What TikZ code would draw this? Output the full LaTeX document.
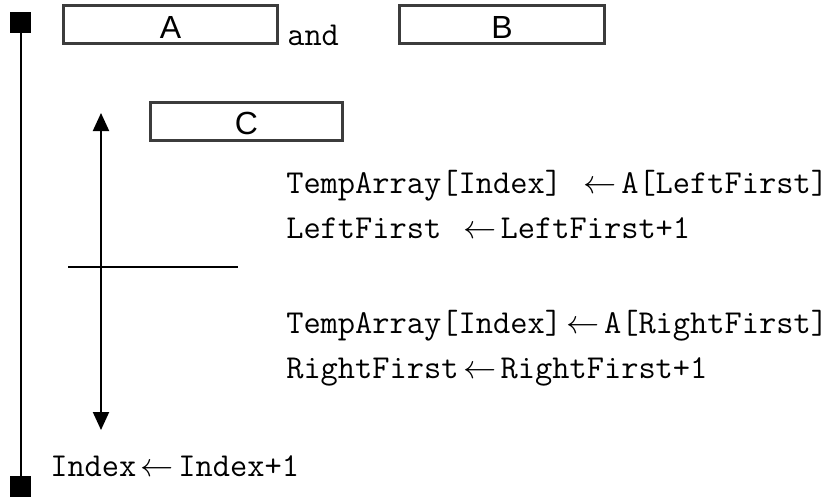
\documentclass[tikz,border=0pt]{standalone}
\usepackage{fontspec}
\setmainfont{Liberation Sans}
\usetikzlibrary{arrows.meta}
\definecolor{boxgray}{HTML}{3C3C3C}
% assignment arrow with fixed room around it
\newcommand\assignto[1][31.5pt]{\makebox[#1][c]{\fontsize{26}{26}\selectfont$\leftarrow$}}
\begin{document}
\begin{tikzpicture}[x=0.75pt,y=-0.75pt,
  namebox/.style={draw=boxgray, line width=2.25pt, inner sep=0pt,
    text height=20.25pt, text depth=0pt,
    font=\fontsize{24}{24}\selectfont},
  code/.style={anchor=base west, inner sep=0pt,
    font=\ttfamily\fontsize{25.1}{25}\selectfont},
  marker/.style={fill=black, draw=none, minimum size=15.75pt, inner sep=0pt},
  rail/.style={line width=1.5pt},
  flow/.style={line width=1.5pt, {Triangle[length=13.5pt,width=12pt]}-{Triangle[length=13.5pt,width=12pt]}},
]
\useasboundingbox (0,0) rectangle (840,497);

% outer bracket of the loop
\node[marker] (top) at (20.5,22.5) {};
\node[marker] (bot) at (20.5,486.5) {};
\draw[rail] (top) -- (bot);

% condition boxes
\node[namebox, minimum width=160.5pt, minimum height=28.5pt] (A) at (170.5,24.5) {A};
\node[code] (and) at (287,45) {and};
\node[namebox, minimum width=153.75pt, minimum height=28.5pt] (B) at (502,24.5) {B};
\node[namebox, minimum width=144pt, minimum height=28.5pt] (C) at (246.5,121) {C};

% two-way branch
\coordinate (up) at (101,113);
\coordinate (down) at (101,430);
\draw[flow] (down) -- (up);
\coordinate (barL) at (68,267);
\coordinate (barR) at (238,267);
\draw[rail] (barL) -- (barR);

% branch statements
\node[code] (l1) at (286,193) {TempArray[Index] \assignto A[LeftFirst]};
\node[code] (l2) at (286,238) {LeftFirst \assignto LeftFirst+1};
\node[code] (r1) at (286,333) {TempArray[Index]\assignto A[RightFirst]};
\node[code] (r2) at (286,378) {RightFirst\assignto RightFirst+1};
\node[code] (inc) at (50,476) {Index\assignto Index+1};
\end{tikzpicture}
\end{document}
